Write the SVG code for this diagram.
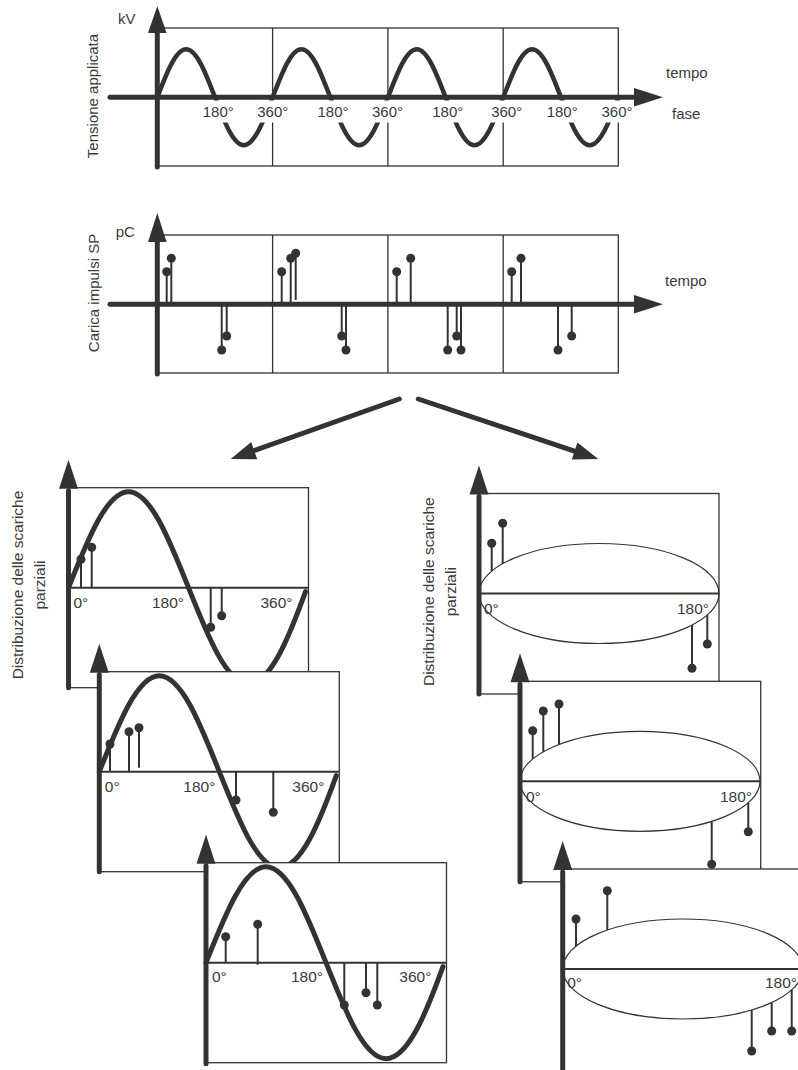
<svg xmlns="http://www.w3.org/2000/svg" width="798" height="1070" viewBox="0 0 798 1070">
<style>
.box{fill:#fff;stroke:#333;stroke-width:1.3}
.boxn{fill:none;stroke:#333;stroke-width:1.3}
.ax{stroke:#333;stroke-width:5;stroke-linecap:round;fill:none}
.hax{stroke:#333;stroke-width:2;fill:none}
.wave{fill:none;stroke:#333;stroke-width:5;stroke-linecap:round}
.wt{fill:none;stroke:#333;stroke-width:4.5;stroke-linecap:round}
.stem{stroke:#333;stroke-width:2}
.dot{fill:#333}
.ah{fill:#333}
.ell{fill:none;stroke:#333;stroke-width:1.2}
.t{font-family:"Liberation Sans",Arial,sans-serif;font-size:15px;fill:#3a3a3a}
.tl{font-family:"Liberation Sans",Arial,sans-serif;font-size:15.5px;fill:#3a3a3a}
.m{text-anchor:middle}
.wb{fill:#fff}
</style>
<defs>
<path id="sinepath" d="M0,100 c19.57,-49.18 38.29,-96 60,-96 c21.71,0 40.43,46.82 60,96 c19.57,49.18 38.29,96 60,96 c21.7,0 40,-45 57,-92"/>
<polygon id="vhead" points="0,-28 -9.5,1 9.5,1"/>
</defs>

<g id="panel-tensione">
<rect class="boxn" x="157.3" y="28" width="461" height="138"/>
<line class="boxn" x1="272.6" y1="28" x2="272.6" y2="166"/>
<line class="boxn" x1="387.9" y1="28" x2="387.9" y2="166"/>
<line class="boxn" x1="503.2" y1="28" x2="503.2" y2="166"/>
<path class="wt" d="M157.3,97.3 c9.40,-24.59 18.40,-48 28.83,-48 c10.43,0 19.43,23.41 28.83,48 c9.40,24.59 18.40,48 28.83,48 c10.43,0 19.43,-23.41 28.83,-48 c9.40,-24.59 18.40,-48 28.83,-48 c10.43,0 19.43,23.41 28.83,48 c9.40,24.59 18.40,48 28.83,48 c10.43,0 19.43,-23.41 28.83,-48 c9.40,-24.59 18.40,-48 28.83,-48 c10.43,0 19.43,23.41 28.83,48 c9.40,24.59 18.40,48 28.83,48 c10.43,0 19.43,-23.41 28.83,-48 c9.40,-24.59 18.40,-48 28.83,-48 c10.43,0 19.43,23.41 28.83,48 c9.40,24.59 18.40,48 28.83,48 c10.43,0 19.43,-23.41 28.83,-48"/>
<rect class="wb" x="200" y="100.5" width="36" height="22"/>
<rect class="wb" x="254.8" y="100.5" width="36" height="22"/>
<rect class="wb" x="315" y="100.5" width="36" height="22"/>
<rect class="wb" x="369.5" y="100.5" width="36" height="22"/>
<rect class="wb" x="429.8" y="100.5" width="36" height="22"/>
<rect class="wb" x="488.7" y="100.5" width="36" height="22"/>
<rect class="wb" x="544.2" y="100.5" width="36" height="22"/>
<rect class="wb" x="599" y="100.5" width="36" height="22"/>
<text class="t m" x="218.3" y="116.5">180°</text>
<text class="t m" x="272.8" y="116.5">360°</text>
<text class="t m" x="333" y="116.5">180°</text>
<text class="t m" x="387.5" y="116.5">360°</text>
<text class="t m" x="447.8" y="116.5">180°</text>
<text class="t m" x="506.7" y="116.5">360°</text>
<text class="t m" x="562.2" y="116.5">180°</text>
<text class="t m" x="617" y="116.5">360°</text>
<line class="ax" x1="110" y1="97.3" x2="637" y2="97.3"/>
<polygon class="ah" points="663,97.3 634,88 634,106.6"/>
<line class="ax" x1="157.3" y1="167" x2="157.3" y2="30"/>
<polygon class="ah" points="157.3,6 148,33 166.6,33"/>
<text class="t" x="118" y="24">kV</text>
<text class="t m" transform="translate(97.5,96) rotate(-90)">Tensione applicata</text>
<text class="t" x="666" y="78">tempo</text>
<text class="t" x="672" y="119">fase</text>
</g>

<g id="panel-carica">
<rect class="boxn" x="157.3" y="235" width="461" height="138"/>
<line class="boxn" x1="272.6" y1="235" x2="272.6" y2="373"/>
<line class="boxn" x1="387.9" y1="235" x2="387.9" y2="373"/>
<line class="boxn" x1="503.2" y1="235" x2="503.2" y2="373"/>
<g>
<line class="stem" x1="166.7" y1="304" x2="166.7" y2="271.7"/><circle class="dot" cx="166.7" cy="271.7" r="4.5"/>
<line class="stem" x1="171.3" y1="304" x2="171.3" y2="258.3"/><circle class="dot" cx="171.3" cy="258.3" r="4.5"/>
<line class="stem" x1="281.7" y1="304" x2="281.7" y2="271.7"/><circle class="dot" cx="281.7" cy="271.7" r="4.5"/>
<line class="stem" x1="290.7" y1="304" x2="290.7" y2="258.3"/><circle class="dot" cx="290.7" cy="258.3" r="4.5"/>
<line class="stem" x1="295.7" y1="300" x2="295.7" y2="253.3"/><circle class="dot" cx="295.7" cy="253.3" r="4.5"/>
<line class="stem" x1="396.7" y1="304" x2="396.7" y2="271.7"/><circle class="dot" cx="396.7" cy="271.7" r="4.5"/>
<line class="stem" x1="410.7" y1="304" x2="410.7" y2="258.3"/><circle class="dot" cx="410.7" cy="258.3" r="4.5"/>
<line class="stem" x1="511.7" y1="304" x2="511.7" y2="271.7"/><circle class="dot" cx="511.7" cy="271.7" r="4.5"/>
<line class="stem" x1="521" y1="304" x2="521" y2="258.3"/><circle class="dot" cx="521" cy="258.3" r="4.5"/>
<line class="stem" x1="221.7" y1="305" x2="221.7" y2="350"/><circle class="dot" cx="221.7" cy="350" r="4.5"/>
<line class="stem" x1="226.7" y1="305" x2="226.7" y2="336"/><circle class="dot" cx="226.7" cy="336" r="4.5"/>
<line class="stem" x1="341.7" y1="305" x2="341.7" y2="336"/><circle class="dot" cx="341.7" cy="336" r="4.5"/>
<line class="stem" x1="346" y1="305" x2="346" y2="350"/><circle class="dot" cx="346" cy="350" r="4.5"/>
<line class="stem" x1="447.7" y1="305" x2="447.7" y2="350"/><circle class="dot" cx="447.7" cy="350" r="4.5"/>
<line class="stem" x1="456.7" y1="305" x2="456.7" y2="336"/><circle class="dot" cx="456.7" cy="336" r="4.5"/>
<line class="stem" x1="461" y1="305" x2="461" y2="350"/><circle class="dot" cx="461" cy="350" r="4.5"/>
<line class="stem" x1="558" y1="305" x2="558" y2="350"/><circle class="dot" cx="558" cy="350" r="4.5"/>
<line class="stem" x1="571.7" y1="305" x2="571.7" y2="336"/><circle class="dot" cx="571.7" cy="336" r="4.5"/>
</g>
<line class="ax" x1="110" y1="304.3" x2="637" y2="304.3"/>
<polygon class="ah" points="663,304.3 634,295 634,313.6"/>
<line class="ax" x1="157.3" y1="374" x2="157.3" y2="238"/>
<polygon class="ah" points="157.3,213 148,242 166.6,242"/>
<text class="t" x="115.7" y="236.7">pC</text>
<text class="t m" transform="translate(99.3,293) rotate(-90)">Carica impulsi SP</text>
<text class="t" x="665" y="286">tempo</text>
</g>

<g id="connectors">
<line class="ax" stroke-width="4" x1="399.3" y1="399" x2="252" y2="451.3"/>
<polygon class="ah" points="230.7,459 257.2,459.3 251.2,442.1"/>
<line class="ax" stroke-width="4" x1="418.3" y1="399" x2="576" y2="451.6"/>
<polygon class="ah" points="598.3,459 571.8,459.6 577.4,442.6"/>
</g>

<g id="label-left">
<text class="tl m" transform="translate(22.7,585) rotate(-90)">Distribuzione delle scariche</text>
<text class="tl m" transform="translate(44.5,585) rotate(-90)">parziali</text>
</g>
<g id="label-right">
<text class="tl m" transform="translate(434,591.7) rotate(-90)">Distribuzione delle scariche</text>
<text class="tl m" transform="translate(456,591.7) rotate(-90)">parziali</text>
</g>

<g id="sine-a" transform="translate(68.5,487.7)">
<rect class="box" x="0" y="0" width="240" height="200"/>
<line class="hax" x1="0" y1="100" x2="240" y2="100"/>
<line class="stem" x1="12.5" y1="100" x2="12.5" y2="71.6"/><circle class="dot" cx="12.5" cy="71.6" r="4.5"/>
<line class="stem" x1="23.2" y1="100" x2="23.2" y2="59.6"/><circle class="dot" cx="23.2" cy="59.6" r="4.5"/>
<line class="stem" x1="142.2" y1="100" x2="142.2" y2="139.6"/><circle class="dot" cx="142.2" cy="139.6" r="4.5"/>
<line class="stem" x1="153.2" y1="100" x2="153.2" y2="128"/><circle class="dot" cx="153.2" cy="128" r="4.5"/>
<use href="#sinepath" class="wave"/>
<text class="tl" x="5" y="120.3">0°</text>
<text class="tl" x="83.5" y="120.3">180°</text>
<text class="tl" x="192" y="120.3">360°</text>
<line class="ax" x1="0" y1="200" x2="0" y2="3"/>
<use href="#vhead" class="ah"/>
</g>

<g id="sine-b" transform="translate(99.3,671.7)">
<rect class="box" x="0" y="0" width="240" height="200"/>
<line class="hax" x1="0" y1="100" x2="240" y2="100"/>
<line class="stem" x1="10.7" y1="100" x2="10.7" y2="72.3"/><circle class="dot" cx="10.7" cy="72.3" r="4.5"/>
<line class="stem" x1="29.7" y1="100" x2="29.7" y2="60"/><circle class="dot" cx="29.7" cy="60" r="4.5"/>
<line class="stem" x1="39.7" y1="96" x2="39.7" y2="56"/><circle class="dot" cx="39.7" cy="56" r="4.5"/>
<line class="stem" x1="136.7" y1="100" x2="136.7" y2="128.3"/><circle class="dot" cx="136.7" cy="128.3" r="4.5"/>
<line class="stem" x1="174" y1="100" x2="174" y2="140.6"/><circle class="dot" cx="174" cy="140.6" r="4.5"/>
<use href="#sinepath" class="wave"/>
<text class="tl" x="5.5" y="120">0°</text>
<text class="tl" x="84" y="120">180°</text>
<text class="tl" x="193" y="120">360°</text>
<line class="ax" x1="0" y1="200" x2="0" y2="3"/>
<use href="#vhead" class="ah"/>
</g>

<g id="sine-c" transform="translate(206,862.7)">
<rect class="box" x="0" y="0" width="240.5" height="200"/>
<line class="hax" x1="0" y1="100" x2="240.5" y2="100"/>
<line class="stem" x1="19.7" y1="100" x2="19.7" y2="74"/><circle class="dot" cx="19.7" cy="74" r="4.5"/>
<line class="stem" x1="51.7" y1="102" x2="51.7" y2="61.6"/><circle class="dot" cx="51.7" cy="61.6" r="4.5"/>
<line class="stem" x1="138.3" y1="100" x2="138.3" y2="142.3"/><circle class="dot" cx="138.3" cy="142.3" r="4.5"/>
<line class="stem" x1="160" y1="100" x2="160" y2="130"/><circle class="dot" cx="160" cy="130" r="4.5"/>
<line class="stem" x1="171.3" y1="100" x2="171.3" y2="142.3"/><circle class="dot" cx="171.3" cy="142.3" r="4.5"/>
<use href="#sinepath" class="wave"/>
<text class="tl" x="6" y="119.5">0°</text>
<text class="tl" x="85" y="119.5">180°</text>
<text class="tl" x="193.3" y="119.5">360°</text>
<line class="ax" x1="0" y1="201" x2="0" y2="3"/>
<use href="#vhead" class="ah"/>
</g>

<g id="ellipse-d" transform="translate(479,493.5)">
<rect class="box" x="0" y="0" width="240" height="200.5"/>
<line class="stem" x1="12.7" y1="77.6" x2="12.7" y2="49.8"/><circle class="dot" cx="12.7" cy="49.8" r="4.5"/>
<line class="stem" x1="23.7" y1="70.2" x2="23.7" y2="29.8"/><circle class="dot" cx="23.7" cy="29.8" r="4.5"/>
<line class="stem" x1="213" y1="131.6" x2="213" y2="174.8"/><circle class="dot" cx="213" cy="174.8" r="4.5"/>
<line class="stem" x1="228.3" y1="121.5" x2="228.3" y2="150.5"/><circle class="dot" cx="228.3" cy="150.5" r="4.5"/>
<ellipse class="ell" cx="120" cy="100" rx="120" ry="50"/>
<line class="hax" x1="0" y1="100" x2="240" y2="100"/>
<text class="tl" x="5" y="120">0°</text>
<text class="tl" x="198" y="120">180°</text>
<line class="ax" x1="0" y1="200.5" x2="0" y2="3"/>
<use href="#vhead" class="ah"/>
</g>

<g id="ellipse-e" transform="translate(520,681.3)">
<rect class="box" x="0" y="0" width="240.7" height="200.5"/>
<line class="stem" x1="12.7" y1="77.6" x2="12.7" y2="49.4"/><circle class="dot" cx="12.7" cy="49.4" r="4.5"/>
<line class="stem" x1="23.3" y1="70.4" x2="23.3" y2="29.7"/><circle class="dot" cx="23.3" cy="29.7" r="4.5"/>
<line class="stem" x1="39" y1="63.1" x2="39" y2="22.7"/><circle class="dot" cx="39" cy="22.7" r="4.5"/>
<line class="stem" x1="228.3" y1="121.5" x2="228.3" y2="150.4"/><circle class="dot" cx="228.3" cy="150.4" r="4.5"/>
<line class="stem" x1="191.7" y1="140.1" x2="191.7" y2="183"/><circle class="dot" cx="191.7" cy="183" r="4.5"/>
<ellipse class="ell" cx="120" cy="100" rx="120" ry="50"/>
<line class="hax" x1="0" y1="100" x2="240.7" y2="100"/>
<text class="tl" x="6" y="120.4">0°</text>
<text class="tl" x="200" y="120.4">180°</text>
<line class="ax" x1="0" y1="200.5" x2="0" y2="3"/>
<use href="#vhead" class="ah"/>
</g>

<g id="ellipse-f" transform="translate(562.7,869)">
<rect class="box" x="0" y="0" width="241" height="202"/>
<line class="stem" x1="13.3" y1="77.1" x2="13.3" y2="50"/><circle class="dot" cx="13.3" cy="50" r="4.5"/>
<line class="stem" x1="44.6" y1="61.1" x2="44.6" y2="21.7"/><circle class="dot" cx="44.6" cy="21.7" r="4.5"/>
<line class="stem" x1="189" y1="140.9" x2="189" y2="182"/><circle class="dot" cx="189" cy="182" r="4.5"/>
<line class="stem" x1="209" y1="133.5" x2="209" y2="162"/><circle class="dot" cx="209" cy="162" r="4.5"/>
<line class="stem" x1="229" y1="120.9" x2="229" y2="162"/><circle class="dot" cx="229" cy="162" r="4.5"/>
<ellipse class="ell" cx="120" cy="100" rx="120" ry="50"/>
<line class="hax" x1="0" y1="100" x2="241" y2="100"/>
<text class="tl" x="4.5" y="119.3">0°</text>
<text class="tl" x="202.3" y="119.3">180°</text>
<line class="ax" x1="0" y1="202" x2="0" y2="3"/>
<use href="#vhead" class="ah"/>
</g>
</svg>
